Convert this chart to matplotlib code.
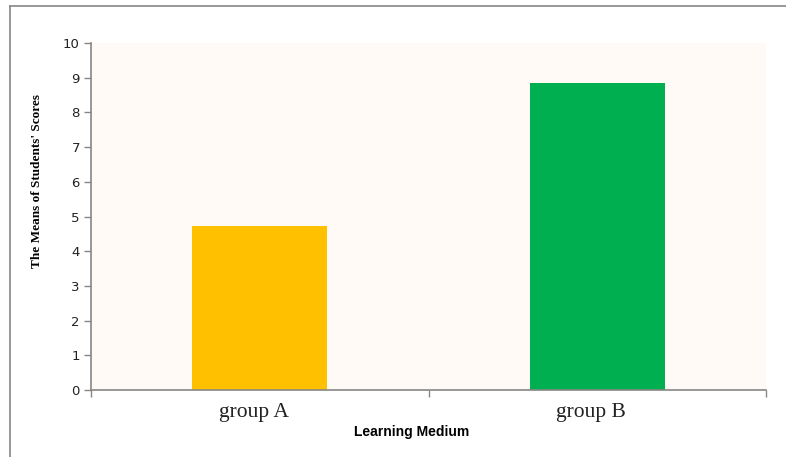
import matplotlib.pyplot as plt
from matplotlib.lines import Line2D
from matplotlib.transforms import ScaledTranslation

groups = ["group A", "group B"]
means = [4.72, 8.86]
bar_colors = ["#FFC000", "#00B050"]
y_ticks = list(range(0, 11))

axis_gray = "#868686"

fig = plt.figure(figsize=(7.86, 4.57), dpi=100)
fig.patch.set_facecolor("white")

# outer chart frame (only top and left edges are visible in the crop)
fig.add_artist(Line2D([10 / 786, 10 / 786], [0, 1 - 6 / 457],
                      transform=fig.transFigure, color=axis_gray, lw=1.2))
fig.add_artist(Line2D([10 / 786, 1], [1 - 6 / 457, 1 - 6 / 457],
                      transform=fig.transFigure, color=axis_gray, lw=1.2))

ax = fig.add_axes([91 / 786, 67 / 457, 675 / 786, 347 / 457])
ax.set_facecolor("#FFFAF6")

x = list(range(len(groups)))
ax.bar(x, means, width=0.4, color=bar_colors, zorder=2)

ax.set_xlim(-0.5, len(groups) - 0.5)
ax.set_ylim(0, 10)

ax.set_yticks(y_ticks)
ax.set_yticklabels([str(t) for t in y_ticks], fontsize=9.5,
                   family="DejaVu Sans", color="#222222")
ax.tick_params(axis="y", direction="out", length=5, width=1,
               color=axis_gray, pad=3)

ax.set_xticks(x)
ax.set_xticklabels(groups, family="Liberation Serif", fontsize=15.5,
                   color="#222222")
ax.set_xticks([-0.5, 0.5, 1.5], minor=True)
ax.tick_params(axis="x", which="major", length=0, pad=9)
ax.tick_params(axis="x", which="minor", direction="out", length=5,
               width=1, color=axis_gray)

# group labels sit slightly left of the bar centres in the original
shift = ScaledTranslation(-0.06, 0, fig.dpi_scale_trans)
for label in ax.get_xticklabels():
    label.set_transform(label.get_transform() + shift)

for side in ["top", "right"]:
    ax.spines[side].set_visible(False)
for side in ["left", "bottom"]:
    ax.spines[side].set_color(axis_gray)
    ax.spines[side].set_linewidth(1.2)

ax.set_ylabel("The Means of Students' Scores", family="Liberation Serif",
              fontweight="bold", fontsize=9.5)
ax.yaxis.set_label_coords(-0.071, 0.602)
ax.set_xlabel("Learning Medium", family="Liberation Sans",
              fontweight="bold", fontsize=10)
ax.xaxis.set_label_coords(0.4756, -0.1)

fig.savefig("out.png", dpi=100)
